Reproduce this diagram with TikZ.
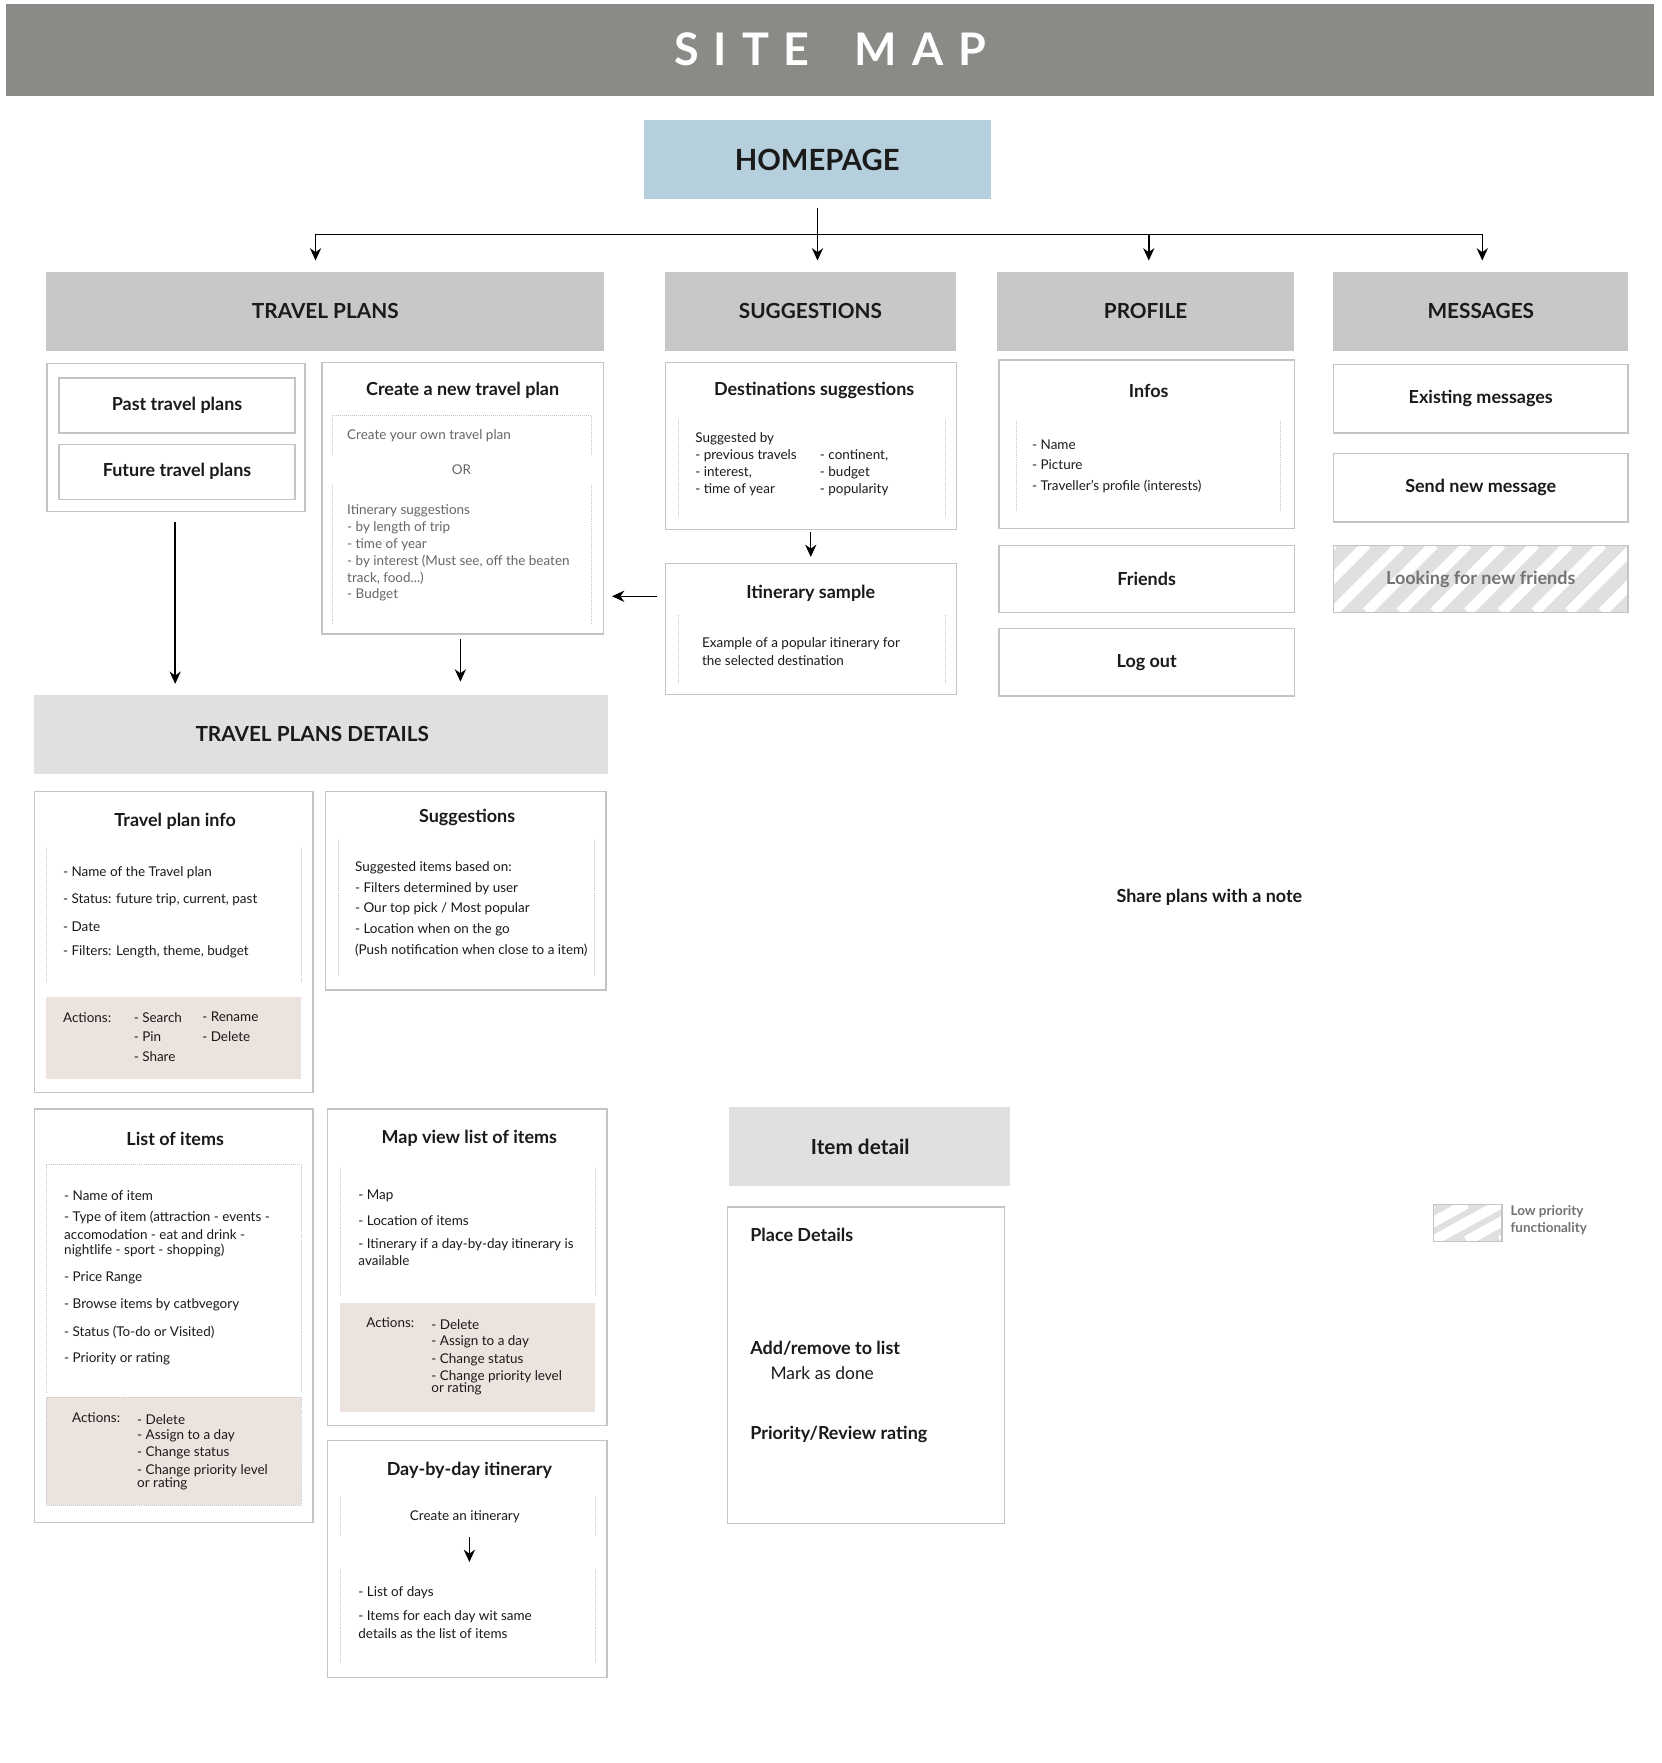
\documentclass[tikz,border=0pt]{standalone}
\usepackage{fontspec}
\setmainfont{Lato}
\usetikzlibrary{calc,arrows.meta}
\definecolor{hdr}{HTML}{8A8A87}
\definecolor{home}{HTML}{B5CFDC}
\definecolor{sec}{HTML}{C8C8C8}
\definecolor{sec2}{HTML}{E0E0E0}
\definecolor{bord}{HTML}{C4C4C4}
\definecolor{act}{HTML}{EDE3DE}
\definecolor{tx}{HTML}{1A1A1A}
\newcommand\bx[6]{\node[#6,anchor=north west,inner sep=0pt,minimum width={(#4-#2)*1pt},minimum height={(#5-#3)*1pt}] (#1) at (#2,#3) {};}
\newcommand\hatch[4]{\begin{scope}\clip (#1,#2) rectangle (#3,#4); \fill[sec2] (#1,#2) rectangle (#3,#4);
\foreach \k in {0,30,...,400}{\draw[white,line width=9pt] (#1+\k-60,#4) -- (#1+\k,#2);}\end{scope}}
\begin{document}
\begin{tikzpicture}[x=1pt,y=-1pt,
 box/.style={draw=bord,line width=1.3pt,fill=white},
 secbox/.style={fill=sec},
 sec2box/.style={fill=sec2},
 actbox/.style={fill=act},
 dotbox/.style={draw=bord,densely dotted,line width=0.8pt},
 ttl/.style={font=\bfseries\fontsize{16}{19}\selectfont,text=tx},
 sttl/.style={font=\bfseries\fontsize{18.5}{21}\selectfont,text=tx},
 t/.style={font=\fontsize{12}{14}\selectfont,text=tx,anchor=west,inner sep=0pt,align=left},
 tg/.style={t,text=black!60},
 arr/.style={-{Stealth[length=11pt,width=10pt]},line width=1.3pt,black}]
\useasboundingbox (0,0) rectangle (1480,1570);
\fill[white] (0,0) rectangle (1480,1570);
% header
\bx{hd}{5}{3}{1473}{85}{fill=hdr}
\node[font=\bfseries\fontsize{40}{44}\selectfont,text=white] at (hd.center) {S\,\,I\,\,T\,\,E\quad M\,\,A\,\,P};
\bx{hp}{573}{107}{882}{177}{fill=home}
\node[font=\bfseries\fontsize{26}{30}\selectfont,text=tx] at (hp.center) {HOMEPAGE};
% sections
\bx{tp}{41}{242}{538}{312}{secbox}\node[sttl] at (tp.center){TRAVEL PLANS};
\bx{sg}{592}{242}{851}{312}{secbox}\node[sttl] at (sg.center){SUGGESTIONS};
\bx{pf}{888}{242}{1152}{312}{secbox}\node[sttl] at (pf.center){PROFILE};
\bx{ms}{1187}{242}{1450}{312}{secbox}\node[sttl] at (ms.center){MESSAGES};
% homepage connectors
\coordinate (h0) at (728,185); \coordinate (hj) at (728,209);
\coordinate (a1) at (281,232);\coordinate (a2) at (728,232);\coordinate (a3) at (1023,232);\coordinate (a4) at (1320,232);
\draw[line width=1.3pt] (h0) -- (hj);
\draw[line width=1.3pt] (281,209) -- (1320,209);
\draw[arr] (281,208.4) -- (a1); \draw[arr] (hj) -- (a2); \draw[arr] (1023,208.4) -- (a3); \draw[arr] (1320,208.4) -- (a4);
% travel plans
\bx{tpo}{41}{323}{271}{455}{box}
\bx{past}{52}{336}{262}{385}{box}\node[ttl] at (past.center){Past travel plans};
\bx{fut}{52}{395}{262}{444}{box}\node[ttl] at (fut.center){Future travel plans};
\bx{cnew}{286}{322}{537}{564}{box}
\node[ttl] at (412,348){Create a new travel plan};
\draw[dotbox] (296,405) -- (296,370) -- (527,370) -- (527,405);
\node[tg] at (309,388){Create your own travel plan};
\node[tg,anchor=center] at (411,418){OR};
\draw[dotbox] (296,432) -- (296,555); \draw[dotbox] (527,432) -- (527,555);
\node[tg] at (309,455){Itinerary suggestions};
\node[tg] at (309,470){- by length of trip};
\node[tg] at (309,485){- time of year};
\node[tg] at (309,500){- by interest (Must see, off the beaten};
\node[tg] at (309,515){track, food...)};
\node[tg] at (309,530){- Budget};
% suggestions
\bx{dest}{592}{322}{851}{471}{box}
\node[ttl] at (725,348){Destinations suggestions};
\draw[dotbox] (604,373) -- (604,460); \draw[dotbox] (842,373) -- (842,460);
\node[t] at (619,391){Suggested by};
\node[t] at (619,406){- previous travels};\node[t] at (730,406){- continent,};
\node[t] at (619,421){- interest,};\node[t] at (730,421){- budget};
\node[t] at (619,436){- time of year};\node[t] at (730,436){- popularity};
\bx{itin}{592}{501}{851}{618}{box}
\node[ttl] at (722,528){Itinerary sample};
\draw[dotbox] (604,548) -- (604,608); \draw[dotbox] (842,548) -- (842,608);
\node[t] at (625,573){Example of a popular itinerary for};
\node[t] at (625,588){the selected destination};
\coordinate (d1) at (722,474); \coordinate (d2) at (722,496);
\draw[arr] (d1) -- (d2);
\coordinate (s1) at (585,531); \coordinate (s2) at (545,531);
\draw[arr] (s1) -- (s2);
% profile
\bx{inf}{889}{320}{1152}{470}{box}
\node[ttl] at (1023,348){Infos};
\draw[dotbox] (905,375) -- (905,455); \draw[dotbox] (1140,375) -- (1140,455);
\node[t] at (919,396){- Name};
\node[t] at (919,414){- Picture};
\node[t] at (919,433){- Traveller’s profile (interests)};
\bx{fr}{889}{485}{1152}{545}{box}\node[ttl] at (fr.center){Friends};
\bx{lo}{889}{559}{1152}{619}{box}\node[ttl] at (lo.center){Log out};
% messages
\bx{ex}{1187}{324}{1449}{385}{box}\node[ttl] at (ex.center){Existing messages};
\bx{sn}{1187}{403}{1449}{464}{box}\node[ttl] at (sn.center){Send new message};
\hatch{1187}{485}{1449}{545}
\bx{lf}{1187}{485}{1449}{545}{draw=bord,line width=1.3pt}\node[ttl,text=black!55] at (lf.center){Looking for new friends};
% arrows to details
\coordinate (v1) at (156,465); \coordinate (v2) at (156,609);
\coordinate (w1) at (410,569); \coordinate (w2) at (410,607);
\draw[arr] (v1) -- (v2);
\draw[arr] (w1) -- (w2);
\bx{tpd}{30}{619}{541}{689}{sec2box}\node[sttl] at (278,654){TRAVEL PLANS DETAILS};
% travel plan info
\bx{tpi}{30}{704}{278}{972}{box}
\node[ttl] at (156,731){Travel plan info};
\draw[dotbox] (41,755) -- (41,875); \draw[dotbox] (268,755) -- (268,875);
\node[t] at (56,777){- Name of the Travel plan};
\node[t] at (56,801){- Status: future trip, current, past};
\node[t] at (56,825){- Date};
\node[t] at (56,848){- Filters: Length, theme, budget};
\bx{tpa}{41}{888}{268}{961}{actbox}
\node[t] at (56,906){Actions:};
\node[t] at (119,906){- Search};\node[t] at (180,905){- Rename};
\node[t] at (119,923){- Pin};\node[t] at (180,923){- Delete};
\node[t] at (119,941){- Share};
% suggestions detail
\bx{sgd}{289}{704}{539}{881}{box}
\node[ttl] at (416,728){Suggestions};
\draw[dotbox] (301,748) -- (301,870); \draw[dotbox] (529,748) -- (529,870);
\node[t] at (316,773){Suggested items based on:};
\node[t] at (316,791){- Filters determined by user};
\node[t] at (316,809){- Our top pick / Most popular};
\node[t] at (316,828){- Location when on the go};
\node[t] at (316,846){(Push notification when close to a item)};
\node[ttl] at (1077,799){Share plans with a note};
% list of items
\bx{loi}{30}{987}{278}{1355}{box}
\node[ttl] at (156,1014){List of items};
\draw[dotbox] (41,1240) -- (41,1037) -- (268,1037) -- (268,1240);
\node[t] at (57,1065){- Name of item};
\node[t] at (57,1084){- Type of item (attraction - events -};
\node[t] at (57,1099){accomodation - eat and drink -};
\node[t] at (57,1114){nightlife - sport - shopping)};
\node[t] at (57,1138){- Price Range};
\node[t] at (57,1162){- Browse items by catbvegory};
\node[t] at (57,1186){- Status (To-do or Visited)};
\node[t] at (57,1210){- Priority or rating};
\bx{loa}{41}{1244}{268}{1340}{actbox,dotbox}
\node[t] at (64,1262){Actions:};
\node[t] at (122,1264){- Delete};
\node[t] at (122,1279){- Assign to a day};
\node[t] at (122,1294){- Change status};
\node[t] at (122,1310){- Change priority level};
\node[t] at (122,1321){or rating};
% map view
\bx{mv}{291}{987}{540}{1269}{box}
\node[ttl] at (418,1014){Map view list of items};
\draw[dotbox] (303,1040) -- (303,1155); \draw[dotbox] (530,1040) -- (530,1155);
\node[t] at (319,1065){- Map};
\node[t] at (319,1087){- Location of items};
\node[t] at (319,1108){- Itinerary if a day-by-day itinerary is};
\node[t] at (319,1123){available};
\bx{mva}{303}{1160}{530}{1257}{actbox}
\node[t] at (326,1178){Actions:};
\node[t] at (384,1180){- Delete};
\node[t] at (384,1195){- Assign to a day};
\node[t] at (384,1211){- Change status};
\node[t] at (384,1226){- Change priority level};
\node[t] at (384,1237){or rating};
% day-by-day
\bx{dd}{291}{1282}{540}{1493}{box}
\node[ttl] at (418,1309){Day-by-day itinerary};
\draw[dotbox] (303,1333) -- (303,1368); \draw[dotbox] (530,1333) -- (530,1368);
\node[t,anchor=center] (ci) at (414,1351){Create an itinerary};
\coordinate (c1) at (418,1369); \coordinate (c2) at (418,1391);
\draw[arr] (c1) -- (c2);
\draw[dotbox] (303,1398) -- (303,1480); \draw[dotbox] (530,1398) -- (530,1480);
\node[t] at (319,1418){- List of days};
\node[t] at (319,1440){- Items for each day wit same};
\node[t] at (319,1455){details as the list of items};
% item detail
\bx{idh}{649}{986}{899}{1056}{sec2box}\node[sttl] at (766,1021){Item detail};
\bx{pd}{647}{1074}{894}{1356}{box}
\node[ttl,anchor=west,inner sep=0pt] at (668,1100){Place Details};
\node[ttl,anchor=west,inner sep=0pt] at (668,1201){Add/remove to list};
\node[font=\fontsize{15.5}{18}\selectfont,text=tx,anchor=west,inner sep=0pt] at (686,1223){Mark as done};
\node[ttl,anchor=west,inner sep=0pt] at (668,1277){Priority/Review rating};
% legend
\hatch{1276}{1072}{1337}{1105}
\bx{lg}{1276}{1072}{1337}{1105}{draw=bord,line width=1.3pt}
\node[font=\bfseries\fontsize{12}{14}\selectfont,text=black!55,anchor=west,inner sep=0pt] at (1345,1079){Low priority};
\node[font=\bfseries\fontsize{12}{14}\selectfont,text=black!55,anchor=west,inner sep=0pt] at (1345,1094){functionality};
\end{tikzpicture}
\end{document}
